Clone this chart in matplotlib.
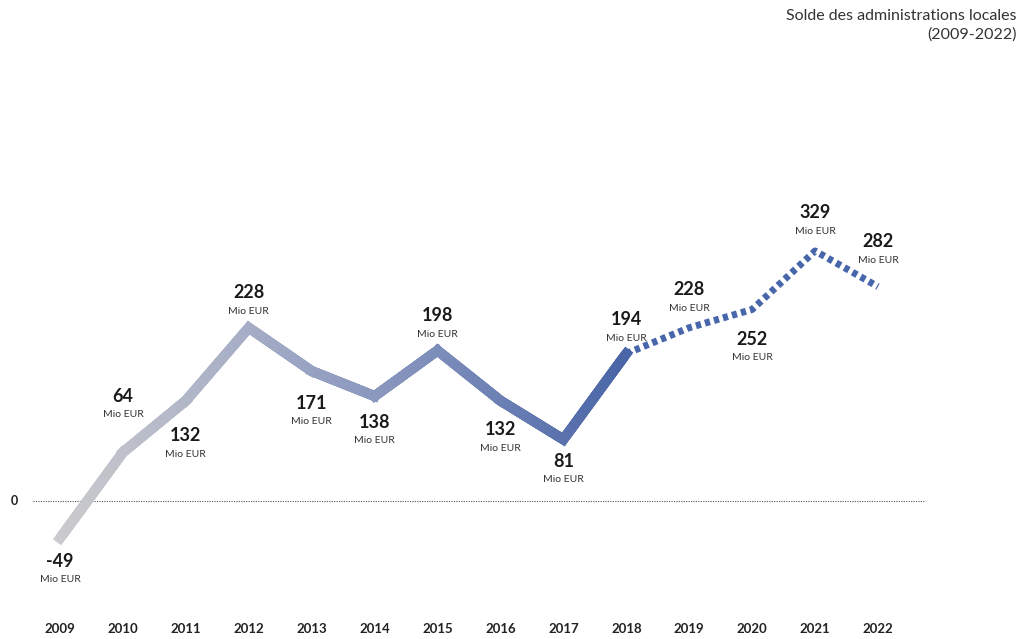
import numpy as np
import matplotlib
matplotlib.use("Agg")
import matplotlib.pyplot as plt
from matplotlib.collections import LineCollection
from matplotlib.colors import LinearSegmentedColormap

plt.rcParams['font.family'] = ['Lato', 'DejaVu Sans']

years = [2009, 2010, 2011, 2012, 2013, 2014, 2015, 2016, 2017, 2018, 2019, 2020, 2021, 2022]
values = [-49, 64, 132, 228, 171, 138, 198, 132, 81, 194, 228, 252, 329, 282]
n_actual = 10  # 2009-2018 solid, 2019-2022 forecast (dotted)
unit = "Mio EUR"
title = "Solde des administrations locales\n(2009-2022)"

# label offset (pixels, positive = below the point) for the value text
label_dy = [23, -56, 35, -35, 32, 26, -35, 29, 22, -34, -38, 30, -38, -45]
unit_gap = 18.5

W, H = 1025, 639
fig = plt.figure(figsize=(W / 100, H / 100), dpi=100)
ax = fig.add_axes([0, 0, 1, 1])
ax.set_axis_off()

pxx = 818 / 13
ax.set_xlim(2009 - 60 / pxx, 2009 + (W - 60) / pxx)
sy = 0.76
ax.set_ylim(-(H - 501) / sy, 501 / sy)

# zero line
ax.plot([2009 - 27 / pxx, 2009 + 865 / pxx], [0, 0], color='#555555', lw=0.8,
        ls=(0, (1, 1.2)), zorder=1)
ax.text(2009 - 46 / pxx, 0, "0", ha='center', va='center', fontsize=9,
        fontweight='bold', color='#222222')

# gradient solid line
cmap = LinearSegmentedColormap.from_list('g', ['#cbcbcd', '#a6adc6', '#7e8ebb', '#4a66a7'])
xs = np.array(years[:n_actual], dtype=float)
ys = np.array(values[:n_actual], dtype=float)
segs, cols = [], []
nsub = 30
for i in range(len(xs) - 1):
    for k in range(nsub):
        t0, t1 = k / nsub, (k + 1) / nsub
        p0 = (xs[i] + (xs[i + 1] - xs[i]) * t0, ys[i] + (ys[i + 1] - ys[i]) * t0)
        p1 = (xs[i] + (xs[i + 1] - xs[i]) * t1, ys[i] + (ys[i + 1] - ys[i]) * t1)
        segs.append([p0, p1])
        cols.append((i + (t0 + t1) / 2) / (len(xs) - 1))
lc = LineCollection(segs, colors=cmap(np.array(cols)), linewidths=7.2,
                    capstyle='projecting', joinstyle='miter', zorder=3)
ax.add_collection(lc)

# dotted forecast
ax.plot(years[n_actual - 1:], values[n_actual - 1:], color='#4767aa', lw=5.0,
        ls=(0, (0.75, 0.6)), solid_capstyle='butt', dash_capstyle='butt', zorder=3)

# labels
k = 72 / 100
for x, v, d in zip(years, values, label_dy):
    ax.annotate(f"{v}", (x, v), xytext=(0, -d * k), textcoords='offset points',
                ha='center', va='center', fontsize=13, fontweight='bold', color='#1a1a1a')
    ax.annotate(unit, (x, v), xytext=(0, -(d + unit_gap) * k), textcoords='offset points',
                ha='center', va='center', fontsize=7.5, color='#333333')

# year labels
for x in years:
    ax.text(x, -(629 - 501) / sy, str(x), ha='center', va='center', fontsize=9.5,
            fontweight='bold', color='#222222')

fig.text(1017 / W, 1 - 9 / H, title, ha='right', va='top', fontsize=11.5,
         color='#333333', linespacing=1.35)

fig.savefig('out.png', dpi=100, facecolor='white')
